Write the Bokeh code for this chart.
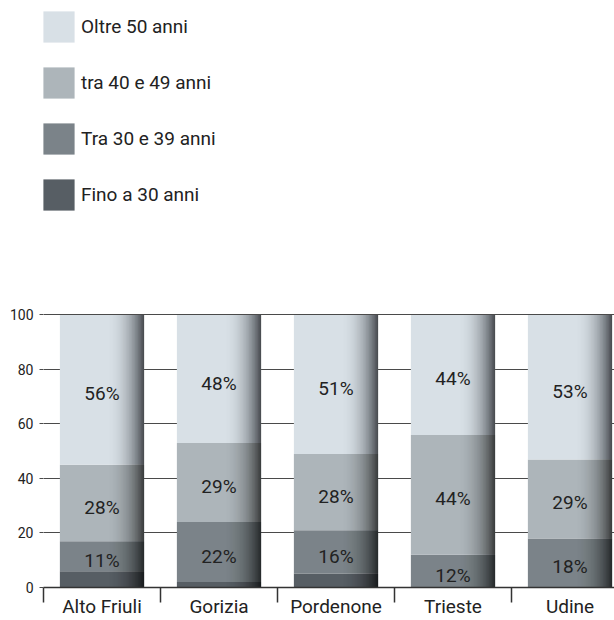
import numpy as np
from bokeh.plotting import figure
from bokeh.models import ColumnDataSource, FixedTicker, Range1d, Legend, LegendItem
from bokeh.core.properties import value
from bokeh.embed import file_html
from bokeh.resources import INLINE

# ---- data ----
categories = ["Alto Friuli", "Gorizia", "Pordenone", "Trieste", "Udine"]
fino_30 = [6, 2, 5, 0, 0]
tra_30_39 = [11, 22, 16, 12, 18]
tra_40_49 = [28, 29, 28, 44, 29]
oltre_50 = [56, 48, 51, 44, 53]
series_names = ["Fino a 30 anni", "Tra 30 e 39 anni", "tra 40 e 49 anni", "Oltre 50 anni"]
y_ticks = [0, 20, 40, 60, 80, 100]

# ---- style ----
series_colors = ["#575e64", "#7b8389", "#adb5ba", "#d8e0e6"]
FONT = "Roboto"
TXT = "#222222"
W, H = 614, 620
LEFT = 43
BOTTOM = 32
PX_PER_CAT = 117.0
PX_PER_UNIT = 2.73
BAR_W = 0.72
frame_w = W - LEFT
frame_h = H - BOTTOM

xc = np.arange(len(categories), dtype=float)
vals = np.array([fino_30, tra_30_39, tra_40_49, oltre_50], dtype=float)
cum = np.cumsum(vals, axis=0)
tops = np.minimum(cum, 100.0)
bottoms = np.vstack([np.zeros(len(categories)), tops[:-1]])

p = figure(width=W, height=H, output_backend="svg", toolbar_location=None,
           x_range=Range1d(-0.5, -0.5 + frame_w / PX_PER_CAT),
           y_range=Range1d(0, frame_h / PX_PER_UNIT),
           min_border_left=LEFT, min_border_right=0, min_border_top=0,
           min_border_bottom=BOTTOM)
p.outline_line_color = None
p.background_fill_color = "white"
p.border_fill_color = "white"
p.xgrid.visible = False
p.ygrid.grid_line_color = "#4a4a4a"
p.ygrid.grid_line_width = 1

renderers = []
for i in range(4):
    src = ColumnDataSource(dict(x=xc, bottom=bottoms[i], top=tops[i]))
    r = p.vbar(x="x", bottom="bottom", top="top", width=BAR_W, source=src,
               fill_color=series_colors[i], line_color=None)
    renderers.append(r)

# cylindrical shading: nested dark overlays on the right part of every bar
K = 28
fs = np.linspace(0.5, 1.0, K, endpoint=False)
fmid = fs + (0.5 / K) * 0.5
target = 0.66 * ((fmid - 0.5) / 0.5) ** 2.7
trans = 1.0 - target
prev = np.concatenate([[1.0], trans[:-1]])
alphas = 1.0 - trans / prev
sx, sw, st, sa = [], [], [], []
bar_tops = tops[-1]
for j in range(len(categories)):
    for f, a in zip(fs, alphas):
        sx.append(xc[j] + ((f + 1.0) / 2.0 - 0.5) * BAR_W)
        sw.append((1.0 - f) * BAR_W)
        st.append(bar_tops[j])
        sa.append(a)
shade = ColumnDataSource(dict(x=sx, w=sw, top=st, a=sa))
p.vbar(x="x", bottom=0, top="top", width="w", source=shade,
       fill_color="black", fill_alpha="a", line_color=None)

# value labels
lx, ly, lt = [], [], []
for i in range(1, 4):
    for j in range(len(categories)):
        lx.append(xc[j])
        ly.append((bottoms[i][j] + tops[i][j]) / 2.0)
        lt.append(f"{int(vals[i][j])}%")
lab = ColumnDataSource(dict(x=lx, y=ly, t=lt))
p.text(x="x", y="y", text="t", source=lab, text_align="center",
       text_baseline="middle", y_offset=4, text_font=value(FONT),
       text_font_size="19px", text_color=TXT)

# axes
xa = p.xaxis[0]
xa.ticker = FixedTicker(ticks=list(range(len(categories))),
                        minor_ticks=[k - 0.5 for k in range(len(categories) + 1)])
xa.major_label_overrides = {k: c for k, c in enumerate(categories)}
xa.axis_line_color = "#333333"
xa.axis_line_width = 1.5
xa.major_tick_line_color = None
xa.major_tick_out = 0
xa.major_tick_in = 0
xa.minor_tick_in = 0
xa.minor_tick_out = 15
xa.minor_tick_line_color = "#333333"
xa.minor_tick_line_width = 1.5
xa.major_label_standoff = -8
xa.major_label_text_font = FONT
xa.major_label_text_font_size = "19px"
xa.major_label_text_color = TXT

ya = p.yaxis[0]
ya.ticker = FixedTicker(ticks=y_ticks, minor_ticks=[])
ya.axis_line_color = None
ya.major_tick_out = 4
ya.major_tick_in = 0
ya.major_tick_line_color = "#4a4a4a"
ya.major_label_standoff = 6
ya.major_label_text_font = FONT
ya.major_label_text_font_size = "14px"
ya.major_label_text_color = TXT

GLYPH = 39
SPACING = 17
leg_h = 4 * GLYPH + 3 * SPACING
leg_top = 8
legend = Legend(items=[LegendItem(label=series_names[i], renderers=[renderers[i]])
                       for i in [3, 2, 1, 0]],
                location=(-4, frame_h - leg_top - leg_h), orientation="vertical",
                glyph_width=GLYPH, glyph_height=GLYPH, spacing=SPACING,
                padding=0, margin=0, label_standoff=3,
                label_text_font=FONT, label_text_font_size="19px",
                label_text_color=TXT, border_line_color=None,
                background_fill_alpha=0)
p.add_layout(legend)

open("out.html", "w").write(file_html(p, INLINE))
